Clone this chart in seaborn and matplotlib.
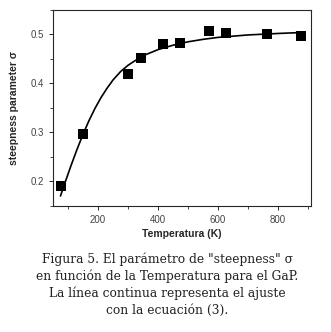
import matplotlib
matplotlib.use("Agg")
import matplotlib.pyplot as plt
import seaborn as sns
from matplotlib.ticker import MultipleLocator

sns.set_style("ticks")
plt.rcParams["font.family"] = ["Liberation Sans", "DejaVu Sans"]

# measured points
temp_k = [77, 150, 300, 343, 417, 473, 570, 627, 763, 877]
sigma = [0.190, 0.297, 0.420, 0.451, 0.480, 0.483, 0.508, 0.502, 0.500, 0.496]

# fitted curve
fit_temp = [75, 90, 110, 130, 150, 170, 190, 210, 230, 250, 275, 300, 330, 360,
            400, 450, 500, 550, 600, 700, 800, 880]
fit_sigma = [0.170, 0.197, 0.232, 0.265, 0.296, 0.324, 0.349, 0.371, 0.390, 0.407,
             0.424, 0.437, 0.449, 0.459, 0.469, 0.478, 0.485, 0.490, 0.494, 0.499,
             0.502, 0.504]

fig = plt.figure(figsize=(3.31, 3.32), dpi=100)
ax = fig.add_axes([0.160, 0.380, 0.780, 0.590])

sns.lineplot(x=fit_temp, y=fit_sigma, ax=ax, color="black", linewidth=1.2)
sns.scatterplot(x=temp_k, y=sigma, ax=ax, marker="s", s=42, color="black",
                edgecolor="black", linewidth=0, zorder=3)

ax.set_xlim(50, 910)
ax.set_ylim(0.15, 0.55)
ax.xaxis.set_major_locator(MultipleLocator(200))
ax.xaxis.set_minor_locator(MultipleLocator(100))
ax.yaxis.set_major_locator(MultipleLocator(0.1))
ax.yaxis.set_minor_locator(MultipleLocator(0.05))
ax.tick_params(which="major", length=3, width=0.7, labelsize=7, labelcolor="#444444")
ax.tick_params(which="minor", length=2, width=0.6)
for sp in ax.spines.values():
    sp.set_linewidth(0.8)

ax.set_xlabel("Temperatura (K)", fontsize=7.5, fontweight="bold", labelpad=3)
ax.set_ylabel("steepness parameter σ", fontsize=7.5, fontweight="bold", labelpad=8)

caption = [
    "Figura 5. El parámetro de \"steepness\" σ",
    "en función de la Temperatura para el GaP.",
    "La línea continua representa el ajuste",
    "con la ecuación (3).",
]
ys = [0.220, 0.168, 0.117, 0.066]
for line, y in zip(caption, ys):
    fig.text(0.505, y, line, ha="center", va="center", fontsize=8.8,
             family=["DejaVu Serif"], color="#222222")

fig.savefig("out.png", dpi=100)
